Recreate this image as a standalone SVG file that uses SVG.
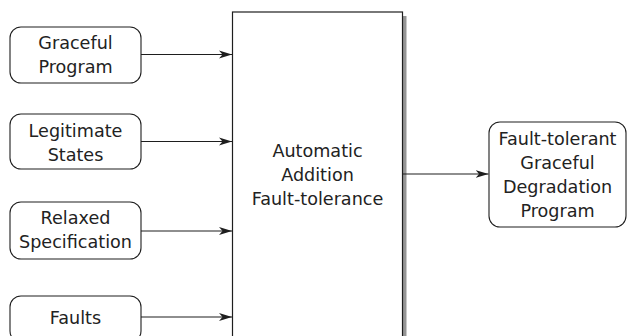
<svg xmlns="http://www.w3.org/2000/svg" width="627" height="336" viewBox="0 0 627 336">
<style>
.node rect{fill:#fff;stroke:#1e1e1e;stroke-width:1.1}
text{font-family:"DejaVu Sans","Liberation Sans",sans-serif;font-size:17.6px;fill:#222;text-anchor:middle}
.conn line{stroke:#1e1e1e;stroke-width:1.1;marker-end:url(#ah)}
</style>
<defs>
<marker id="ah" markerUnits="userSpaceOnUse" markerWidth="14" markerHeight="10" refX="13" refY="5" orient="auto">
<path d="M0,1 L13,5 L0,9 L3.5,5 z" fill="#1e1e1e"/>
</marker>
</defs>
<g id="core">
<rect x="236.5" y="16" width="170" height="330" fill="#959595"/>
<rect x="232.5" y="12" width="170" height="334" fill="#fff" stroke="#1e1e1e" stroke-width="1.2"/>
<text x="317.5" y="157">Automatic</text>
<text x="317.5" y="181">Addition</text>
<text x="317.5" y="205">Fault-tolerance</text>
</g>
<g id="graceful-program" class="node">
<rect x="10" y="27" width="131" height="56" rx="11"/>
<text x="75.5" y="49">Graceful</text>
<text x="75.5" y="73">Program</text>
</g>
<g id="legitimate-states" class="node">
<rect x="10" y="114" width="131" height="55" rx="11"/>
<text x="75.5" y="137">Legitimate</text>
<text x="75.5" y="161">States</text>
</g>
<g id="relaxed-specification" class="node">
<rect x="10" y="202" width="131" height="57" rx="11"/>
<text x="75.5" y="224">Relaxed</text>
<text x="75.5" y="248">Specification</text>
</g>
<g id="faults" class="node">
<rect x="10" y="296" width="131" height="46" rx="11"/>
<text x="75.5" y="324">Faults</text>
</g>
<g id="output" class="node">
<rect x="489" y="122" width="137" height="105" rx="11"/>
<text x="557.5" y="145">Fault-tolerant</text>
<text x="557.5" y="169">Graceful</text>
<text x="557.5" y="193">Degradation</text>
<text x="557.5" y="217">Program</text>
</g>
<g id="connectors" class="conn">
<line x1="141" y1="54.5" x2="232" y2="54.5"/>
<line x1="141" y1="141.5" x2="232" y2="141.5"/>
<line x1="141" y1="231" x2="232" y2="231"/>
<line x1="141" y1="317" x2="232" y2="317"/>
<line x1="403" y1="174" x2="488.5" y2="174"/>
</g>
</svg>
